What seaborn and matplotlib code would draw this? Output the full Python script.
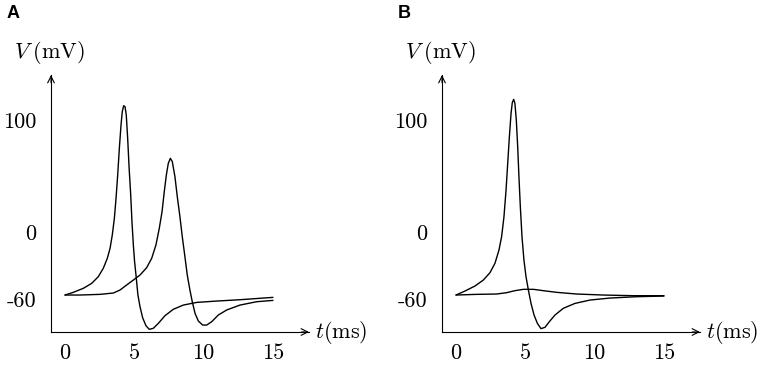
import pandas as pd
import seaborn as sns
import matplotlib.pyplot as plt

# values (t in ms, V in mV)
t_a1 = [0, 0.6, 1.32, 1.92, 2.40, 2.76, 3.05, 3.25, 3.41, 3.56, 3.68, 3.80, 3.92,
        4.04, 4.13, 4.23, 4.33, 4.42, 4.52, 4.62, 4.74, 4.83, 4.93, 5.02, 5.12,
        5.26, 5.41, 5.60, 5.84, 6.08, 6.37, 6.73, 7.21, 7.81, 8.53, 9.50, 10.94,
        12.62, 15]
v_a1 = [-56.4, -54, -50.4, -46, -40, -32.5, -23.6, -14.6, -2.7, 12.2, 30, 51, 75,
        95.8, 107.7, 113.1, 112.2, 104.7, 83.9, 58.5, 33.1, 9.3, -11.6, -26.6, -38.5,
        -56.4, -66.8, -76.7, -83.9, -87.1, -86.2, -81.8, -74.9, -69.2, -65.4, -63,
        -61.8, -60.6, -58.5]

t_a2 = [0, 1.08, 2.52, 3.49, 3.97, 4.45, 4.93, 5.41, 5.89, 6.25, 6.56, 6.80, 7.0,
        7.16, 7.31, 7.45, 7.60, 7.74, 7.93, 8.10, 8.29, 8.46, 8.65, 8.82, 9.01,
        9.18, 9.38, 9.62, 9.93, 10.22, 10.58, 11.06, 11.66, 12.62, 13.82, 15]
v_a2 = [-56.4, -56.4, -55.8, -54.6, -51.9, -47.4, -43, -38.5, -31.9, -23.6, -11.6,
        3.3, 18.2, 36.1, 51, 61.5, 66, 63, 49.5, 31.6, 13.7, -4.2, -22.1, -38.5,
        -51.9, -62.4, -72.8, -79.7, -83.3, -83.3, -80.3, -74.3, -69.8, -65.4,
        -62.4, -61.2]

t_b1 = [0, 0.65, 1.37, 1.97, 2.45, 2.81, 3.10, 3.29, 3.46, 3.61, 3.73, 3.85, 3.97,
        4.06, 4.16, 4.25, 4.35, 4.45, 4.54, 4.64, 4.76, 4.90, 5.05, 5.22, 5.41,
        5.63, 5.87, 6.13, 6.42, 6.73, 7.14, 7.74, 8.58, 9.66, 11.11, 13.03, 15]
v_b1 = [-56.4, -52.8, -48.3, -43, -36.4, -28, -16.1, -4.2, 13.7, 37.6, 61.5, 85.3,
        106.2, 115.8, 118.8, 115.2, 100.3, 76.4, 49.5, 22.7, -4.2, -25, -40, -51.9,
        -63.9, -74.3, -81.8, -86.5, -85.3, -80.3, -74.3, -68.3, -63.9, -60.9,
        -59.1, -57.9, -57.3]

t_b2 = [0, 1.49, 2.93, 3.65, 4.25, 4.86, 5.58, 6.30, 7.26, 8.70, 10.63, 12.79, 15]
v_b2 = [-56.4, -55.8, -55.5, -54.3, -52.5, -51.3, -51.3, -52.5, -54, -55.5, -56.4,
        -57, -57]

x_ticks = [0, 5, 10, 15]
y_ticks = [-60, 0, 100]
y_tick_labels = ["-60", "0", "100"]
panels = ["A", "B"]

sns.set_theme(style="white")
plt.rcParams["mathtext.fontset"] = "cm"
plt.rcParams["axes.unicode_minus"] = False
serif = ["cmr10", "DejaVu Serif"]

fig = plt.figure(figsize=(7.65, 3.7), dpi=100)
W, H = 765, 370

curves = {
    "A": [(t_a1, v_a1), (t_a2, v_a2)],
    "B": [(t_b1, v_b1), (t_b2, v_b2)],
}

for i, name in enumerate(panels):
    shift = 391 * i
    left, right, top, bottom = 51 + shift, 309 + shift, 75, 332
    ax = fig.add_axes([left / W, 1 - bottom / H, (right - left) / W, (bottom - top) / H])
    for t, v in curves[name]:
        df = pd.DataFrame({"t": t, "V": v})
        sns.lineplot(data=df, x="t", y="V", ax=ax, color="black", lw=1.0,
                     sort=False, estimator=None)
    ax.set_xlim(-1.01, 17.6)
    ax.set_ylim(-89.5, 140.6)
    ax.set_xlabel("")
    ax.set_ylabel("")
    for s in ["top", "right"]:
        ax.spines[s].set_visible(False)
    for s in ["left", "bottom"]:
        ax.spines[s].set_color("black")
        ax.spines[s].set_linewidth(0.8)
    ax.set_xticks(x_ticks)
    ax.set_xticklabels([str(x) for x in x_ticks])
    ax.set_yticks(y_ticks)
    ax.set_yticklabels(y_tick_labels)
    ax.tick_params(axis="both", direction="out", length=3.5, width=0.8, color="black",
                   labelcolor="black", labelsize=16)
    ax.tick_params(axis="x", pad=5)
    ax.tick_params(axis="y", pad=7)
    for lab in ax.get_xticklabels() + ax.get_yticklabels():
        lab.set_family(serif)
    ax.patch.set_alpha(0)

    # arrow heads at the ends of the axes
    ax.annotate("", xy=(1, 0), xytext=(0.97, 0), xycoords="axes fraction",
                arrowprops=dict(arrowstyle="->", lw=0.8, color="black",
                                shrinkA=0, shrinkB=0))
    ax.annotate("", xy=(0, 1), xytext=(0, 0.97), xycoords="axes fraction",
                arrowprops=dict(arrowstyle="->", lw=0.8, color="black",
                                shrinkA=0, shrinkB=0))

    ax.annotate(r"$t$(ms)", xy=(1, 0), xycoords="axes fraction", xytext=(6, 0),
                textcoords="offset pixels", ha="left", va="center",
                fontsize=16, family=serif, color="black")
    ax.annotate(r"$V\;$(mV)", xy=(0, 1), xycoords="axes fraction", xytext=(-2, 22),
                textcoords="offset pixels", ha="center", va="center",
                fontsize=16, family=serif, color="black")

    fig.text((7 + shift) / W, 1 - 13 / H, name, ha="left", va="center",
             fontsize=13, fontweight="bold", family="Liberation Sans", color="black")

fig.savefig("out.png", dpi=100)
